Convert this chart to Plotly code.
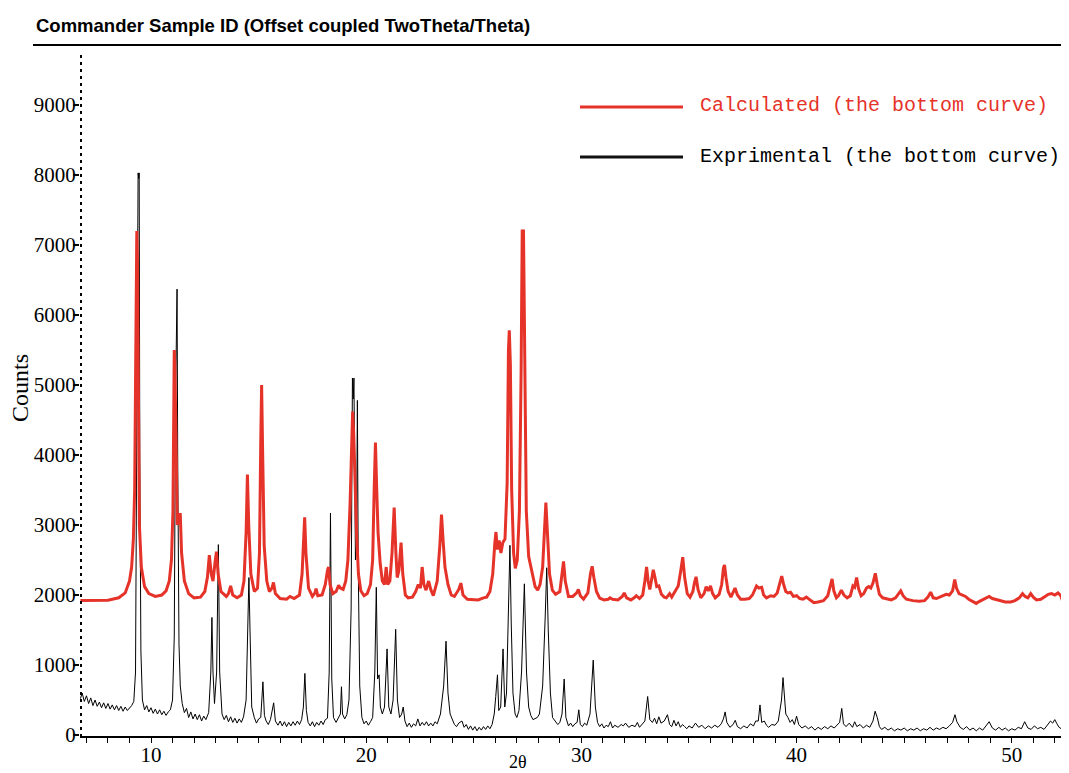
import plotly.graph_objects as go

# ---------------- data ----------------
exp_two_theta = [
    6.72, 6.8, 6.9, 7.0, 7.1, 7.2, 7.3, 7.4, 7.5, 7.6, 7.7, 7.8, 7.9, 8.0, 8.1, 8.2, 8.3, 8.4, 8.5, 8.6,
    8.7, 8.8, 8.9, 9.0, 9.1, 9.2, 9.28, 9.33, 9.38, 9.40, 9.43, 9.45, 9.48, 9.53, 9.6, 9.7, 9.8, 9.9,
    10.0, 10.1, 10.2, 10.3, 10.4, 10.5, 10.6, 10.7, 10.8, 10.9, 11.0, 11.08, 11.14, 11.18, 11.21, 11.24,
    11.3, 11.36, 11.45, 11.55, 11.65, 11.75, 11.85, 11.95, 12.05, 12.15, 12.25, 12.35, 12.45, 12.55,
    12.68, 12.78, 12.83, 12.88, 12.95, 13.05, 13.13, 13.19, 13.3, 13.4, 13.5, 13.6, 13.7, 13.8, 13.9,
    14.0, 14.1, 14.2, 14.3, 14.42, 14.5, 14.55, 14.6, 14.68, 14.8, 14.9, 15.0, 15.1, 15.2, 15.27, 15.35,
    15.45, 15.55, 15.7, 15.78, 15.9, 16.0, 16.1, 16.2, 16.3, 16.4, 16.5, 16.6, 16.7, 16.8, 16.9, 17.0,
    17.08, 17.15, 17.22, 17.3, 17.4, 17.5, 17.6, 17.7, 17.8, 17.9, 18.0, 18.1, 18.2, 18.28, 18.34, 18.4,
    18.48, 18.6, 18.7, 18.8, 18.85, 18.9, 19.0, 19.1, 19.2, 19.3, 19.36, 19.4, 19.43, 19.5, 19.55, 19.59,
    19.63, 19.7, 19.8, 19.9, 20.0, 20.1, 20.2, 20.3, 20.4, 20.47, 20.53, 20.6, 20.66, 20.75, 20.85, 20.97,
    21.05, 21.15, 21.25, 21.37, 21.45, 21.55, 21.65, 21.72, 21.8, 21.9, 22.0, 22.1, 22.2, 22.3, 22.4,
    22.5, 22.6, 22.7, 22.8, 22.9, 23.0, 23.1, 23.2, 23.3, 23.45, 23.6, 23.71, 23.8, 23.9, 24.0, 24.1,
    24.2, 24.3, 24.45, 24.55, 24.65, 24.75, 24.85, 24.95, 25.05, 25.15, 25.25, 25.35, 25.45, 25.55,
    25.65, 25.75, 25.85, 25.95, 26.02, 26.1, 26.16, 26.25, 26.36, 26.44, 26.52, 26.62, 26.68, 26.74,
    26.82, 26.92, 27.0, 27.1, 27.22, 27.35, 27.45, 27.55, 27.65, 27.75, 27.85, 27.95, 28.05, 28.2,
    28.32, 28.39, 28.46, 28.56, 28.66, 28.8, 28.9, 29.0, 29.1, 29.2, 29.28, 29.4, 29.5, 29.6, 29.7,
    29.8, 29.88, 29.95, 30.05, 30.15, 30.25, 30.4, 30.55, 30.65, 30.75, 30.85, 30.95, 31.05, 31.15,
    31.25, 31.35, 31.45, 31.55, 31.7, 31.85, 31.95, 32.05, 32.2, 32.35, 32.5, 32.6, 32.7, 32.8, 32.95,
    33.08, 33.18, 33.3, 33.4, 33.5, 33.6, 33.7, 33.85, 34.0, 34.1, 34.2, 34.3, 34.4, 34.5, 34.6, 34.7,
    34.8, 34.9, 35.0, 35.15, 35.3, 35.45, 35.6, 35.75, 35.9, 36.05, 36.2, 36.35, 36.5, 36.6, 36.68,
    36.76, 36.9, 37.05, 37.15, 37.25, 37.4, 37.55, 37.7, 37.85, 38.0, 38.1, 38.22, 38.3, 38.38, 38.5,
    38.6, 38.7, 38.85, 39.0, 39.15, 39.3, 39.37, 39.43, 39.5, 39.6, 39.7, 39.8, 39.9, 40.0, 40.1, 40.25,
    40.4, 40.55, 40.7, 40.85, 41.0, 41.15, 41.3, 41.45, 41.6, 41.75, 41.9, 42.0, 42.1, 42.18, 42.3,
    42.45, 42.6, 42.7, 42.8, 42.95, 43.1, 43.25, 43.4, 43.55, 43.65, 43.75, 43.85, 43.95, 44.1, 44.25,
    44.4, 44.55, 44.7, 44.85, 45.0, 45.15, 45.3, 45.45, 45.6, 45.75, 45.9, 46.05, 46.2, 46.35, 46.5,
    46.65, 46.8, 46.95, 47.1, 47.25, 47.36, 47.45, 47.6, 47.75, 47.9, 48.05, 48.2, 48.35, 48.5, 48.65,
    48.8, 48.95, 49.1, 49.25, 49.4, 49.55, 49.7, 49.85, 50.0, 50.15, 50.3, 50.45, 50.6, 50.75, 50.9,
    51.05, 51.2, 51.35, 51.5, 51.65, 51.8, 51.9, 52.0, 52.1, 52.2, 52.3, 52.42,
]
exp_counts = [
    520, 600, 480, 560, 450, 530, 420, 500, 410, 470, 390, 460, 380, 450, 370, 430, 360, 420, 350, 410,
    340, 400, 350, 380, 420, 480, 900, 3900, 7200, 8030, 7950, 8030, 3900, 1200, 500, 360, 420, 330,
    390, 310, 370, 300, 360, 290, 340, 280, 330, 360, 500, 1400, 4800, 6370, 6370, 4000,
    1300, 700, 450, 320, 380, 250, 330, 230, 300, 220, 290, 200, 270, 220,
    320, 900, 1680, 900, 450, 900, 2720, 900, 300, 220, 280, 190, 260, 180, 240,
    170, 230, 180, 260, 500, 1800, 2250, 1500, 400, 250, 170, 230, 250, 760, 280, 200,
    150, 220, 460, 200, 140, 200, 130, 190, 120, 180, 130, 190, 140, 200, 150, 220,
    400, 880, 350, 180, 130, 190, 120, 180, 140, 200, 150, 220, 240, 900, 3170, 800,
    250, 180, 240, 300, 690, 300, 230, 290, 500, 1800, 5100, 4800, 5100, 2500, 2700, 4780,
    2400, 700, 250, 160, 200, 140, 190, 250, 900, 2110, 800, 860, 400, 300, 400, 1230,
    400, 300, 500, 1510, 500, 250, 300, 400, 200, 120, 170, 110, 160, 130, 230,
    130, 180, 140, 190, 130, 170, 130, 190, 160, 300, 700, 1340, 600, 300, 230, 150,
    120, 170, 200, 110, 150, 80, 130, 70, 120, 60, 110, 70, 120, 80,
    130, 90, 150, 300, 550, 860, 350, 400, 1230, 400, 600, 1800, 2710, 1600,
    600, 300, 250, 350, 900, 2160, 900, 400, 280, 220, 230, 250, 300, 700,
    1700, 2390, 1500, 600, 250, 200, 150, 180, 300, 800, 250, 130, 170, 120, 160,
    180, 360, 150, 120, 170, 140, 300, 1070, 400, 180, 120, 160, 100, 140,
    120, 190, 100, 140, 110, 150, 130, 170, 110, 140, 120, 180, 110, 140, 200,
    550, 220, 180, 240, 160, 260, 170, 200, 290, 150, 120, 210, 130, 190, 110, 150,
    120, 90, 130, 100, 170, 110, 140, 90, 130, 100, 140, 110, 160, 230, 330,
    180, 110, 150, 210, 120, 90, 130, 100, 160, 130, 200, 200, 430, 180, 200,
    140, 110, 150, 140, 200, 500, 820, 560, 300, 250, 180, 220, 150, 270, 150, 100,
    130, 90, 120, 70, 110, 80, 120, 90, 130, 100, 150, 180, 380, 160, 120,
    170, 110, 190, 120, 150, 100, 140, 110, 200, 340, 250, 120, 80, 110, 70,
    100, 60, 90, 70, 100, 60, 90, 70, 100, 60, 90, 70, 110, 70, 100,
    80, 110, 90, 130, 180, 290, 190, 110, 80, 120, 70, 100, 60, 100, 70,
    130, 190, 100, 70, 110, 70, 100, 60, 90, 70, 110, 90, 190, 100, 80,
    130, 90, 110, 80, 140, 200, 170, 220, 160, 110, 90, 60,
]

calc_two_theta = [
    6.72, 7.5, 8.0, 8.5, 8.8, 9.0, 9.1, 9.18, 9.24, 9.28, 9.31, 9.34, 9.37, 9.41, 9.46, 9.55, 9.7, 9.9,
    10.2, 10.5, 10.7, 10.85, 10.95, 11.02, 11.06, 11.08, 11.11, 11.16, 11.22, 11.3, 11.36, 11.42, 11.55,
    11.75, 12.0, 12.3, 12.5, 12.62, 12.71, 12.8, 12.88, 12.97, 13.04, 13.12, 13.25, 13.5, 13.6, 13.7,
    13.8, 14.0, 14.2, 14.32, 14.42, 14.48, 14.54, 14.64, 14.8, 14.95, 15.04, 15.1, 15.14, 15.19, 15.26,
    15.38, 15.5, 15.62, 15.69, 15.78, 16.0, 16.3, 16.46, 16.65, 16.9, 17.02, 17.1, 17.14, 17.2, 17.32,
    17.5, 17.62, 17.67, 17.75, 17.95, 18.1, 18.2, 18.25, 18.32, 18.45, 18.6, 18.72, 18.8, 18.93, 19.05,
    19.15, 19.25, 19.32, 19.37, 19.42, 19.48, 19.55, 19.64, 19.75, 19.9, 20.05, 20.2, 20.3, 20.37, 20.43,
    20.49, 20.55, 20.65, 20.75, 20.85, 20.93, 21.0, 21.1, 21.2, 21.3, 21.38, 21.44, 21.52, 21.62, 21.7,
    21.82, 21.95, 22.15, 22.3, 22.42, 22.52, 22.6, 22.68, 22.78, 22.9, 23.0, 23.12, 23.3, 23.42, 23.5,
    23.58, 23.66, 23.8, 23.95, 24.1, 24.3, 24.4, 24.5, 24.7, 24.95, 25.2, 25.45, 25.6, 25.75, 25.88,
    25.98, 26.03, 26.1, 26.18, 26.26, 26.35, 26.45, 26.55, 26.61, 26.65, 26.7, 26.76, 26.85, 26.93,
    27.02, 27.12, 27.2, 27.25, 27.31, 27.36, 27.44, 27.55, 27.65, 27.75, 27.85, 27.97, 28.08, 28.2,
    28.28, 28.35, 28.42, 28.52, 28.65, 28.8, 29.0, 29.1, 29.17, 29.25, 29.4, 29.6, 29.78, 29.86, 29.95,
    30.1, 30.3, 30.42, 30.5, 30.58, 30.7, 30.85, 31.05, 31.25, 31.33, 31.45, 31.7, 31.9, 31.99, 32.1,
    32.3, 32.45, 32.55, 32.7, 32.85, 32.95, 33.03, 33.1, 33.18, 33.28, 33.34, 33.42, 33.5, 33.6, 33.72,
    33.85, 33.95, 34.1, 34.2, 34.35, 34.5, 34.62, 34.71, 34.8, 34.92, 35.05, 35.18, 35.26, 35.33, 35.42,
    35.55, 35.7, 35.8, 35.9, 36.0, 36.1, 36.22, 36.4, 36.52, 36.6, 36.65, 36.72, 36.82, 36.95, 37.05,
    37.14, 37.25, 37.4, 37.6, 37.8, 37.95, 38.05, 38.14, 38.25, 38.38, 38.47, 38.6, 38.8, 38.95, 39.1,
    39.22, 39.31, 39.4, 39.5, 39.6, 39.72, 39.85, 40.0, 40.15, 40.3, 40.45, 40.6, 40.8, 41.0, 41.25,
    41.45, 41.56, 41.65, 41.73, 41.85, 41.95, 42.08, 42.2, 42.35, 42.5, 42.62, 42.7, 42.79, 42.88, 43.0,
    43.12, 43.25, 43.35, 43.45, 43.55, 43.66, 43.75, 43.85, 44.0, 44.2, 44.4, 44.6, 44.72, 44.84, 44.95,
    45.1, 45.4, 45.7, 45.95, 46.1, 46.23, 46.35, 46.5, 46.65, 46.8, 46.95, 47.1, 47.25, 47.35, 47.43,
    47.55, 47.7, 47.85, 48.0, 48.2, 48.35, 48.5, 48.7, 48.85, 48.95, 49.1, 49.3, 49.5, 49.7, 49.95,
    50.15, 50.35, 50.5, 50.62, 50.75, 50.88, 51.0, 51.15, 51.35, 51.55, 51.7, 51.85, 52.0, 52.15, 52.28,
    52.38,
]
calc_counts = [
    1920, 1920, 1925, 1960, 2030, 2200, 2400, 2800, 3500, 5000, 6800, 7200, 6800, 4500, 3000, 2400, 2120, 2020,
    1980, 2000, 2060, 2200, 2500, 3200, 5000, 5500, 5300, 3800, 3000, 3150, 3150, 2600, 2200,
    2020, 1960, 1970, 2050, 2250, 2570, 2300, 2200, 2450, 2620, 2300, 2050, 1980, 2020, 2130,
    2000, 1960, 2000, 2200, 2900, 3720, 3000, 2300, 2050, 2100, 2600, 4200, 5000, 4000, 2700,
    2200, 2050, 2100, 2180, 2020, 1950, 1940, 1980, 1950, 2000, 2300, 3000, 3110, 2600, 2100,
    1980, 2030, 2090, 1990, 2000, 2150, 2350, 2400, 2150, 2020, 2050, 2140, 2100, 2080, 2200,
    2500, 3300, 4300, 4620, 4300, 3500, 2900, 2300, 2060, 1990, 2020, 2150, 2500, 3500, 4180,
    3500, 2900, 2450, 2200, 2150, 2400, 2150, 2200, 2600, 3250, 2600, 2250, 2350, 2750, 2300,
    2000, 1960, 1970, 2050, 2150, 2100, 2400, 2150, 2070, 2200, 2080, 1990, 2200, 2700, 3150,
    2750, 2400, 2150, 2000, 1980, 2080, 2170, 2000, 1940, 1930, 1930, 1960, 1970, 2050, 2300,
    2750, 2900, 2650, 2780, 2600, 2750, 2800, 3600, 5500, 5780, 5300, 3500, 2600, 2380,
    2500, 3200, 5200, 7200, 7200, 5500, 3200, 2550, 2400, 2260, 2120, 2070, 2150, 2400,
    3000, 3320, 2900, 2300, 2070, 2010, 2050, 2300, 2480, 2200, 1980, 1980, 2030, 2080, 1990,
    1940, 2030, 2300, 2410, 2250, 2050, 1955, 1930, 1940, 1960, 1940, 1930, 1980, 2030, 1960,
    1930, 1960, 1990, 1950, 2000, 2200, 2400, 2200, 2080, 2250, 2360, 2250, 2120, 2130, 2010,
    1970, 1960, 2020, 1970, 2050, 2130, 2350, 2540, 2250, 2020, 1970, 2050, 2180, 2260, 2080,
    1960, 2020, 2120, 2060, 2130, 2020, 1960, 2010, 2150, 2380, 2430, 2250, 2050, 1970, 2040,
    2100, 2000, 1940, 1940, 1950, 2000, 2080, 2130, 2100, 2110, 2000, 1960, 1990, 1980, 2030,
    2150, 2270, 2150, 2050, 2030, 2040, 1980, 1990, 1950, 1940, 1970, 1930, 1890, 1900, 1920,
    1990, 2150, 2230, 2060, 1960, 1990, 2070, 2000, 1960, 1990, 2130, 2110, 2250, 2090, 1990,
    2020, 2100, 2120, 2100, 2170, 2310, 2150, 2010, 1960, 1940, 1930, 1960, 2020, 2060, 1990,
    1940, 1920, 1910, 1920, 1970, 2040, 1960, 1950, 1970, 2000, 2010, 2000, 2060, 2220, 2100,
    2020, 2000, 1980, 1940, 1900, 1880, 1910, 1940, 1970, 1980, 1950, 1930, 1920, 1900, 1900,
    1920, 1960, 2020, 1980, 1960, 2020, 1970, 1930, 1940, 1980, 2010, 2020, 2000, 2030, 1990,
    1900,
]

x_tick_values = [10, 20, 30, 40, 50]
y_tick_values = [0, 1000, 2000, 3000, 4000, 5000, 6000, 7000, 8000, 9000]

title_text = "Commander Sample ID (Offset coupled TwoTheta/Theta)"
legend_calc = "Calculated (the bottom curve)"
legend_exp = "Exprimental (the bottom curve)"

RED = "#e5332a"

# ---------------- figure ----------------
fig = go.Figure()
fig.add_trace(go.Scatter(x=exp_two_theta, y=exp_counts, mode="lines",
                         line=dict(color="black", width=1), showlegend=False))
fig.add_trace(go.Scatter(x=calc_two_theta, y=calc_counts, mode="lines",
                         line=dict(color=RED, width=3), showlegend=False))

# the page puts the figure 8 px in from the top-left corner of the window
OFF = 8
W, H = 1069 - OFF, 773 - OFF
ML, MR, MT = 80 - OFF, 0, 50 - OFF
MB = H - (736 - OFF)
PW, PH = W - ML - MR, H - MT - MB


def px(xp):
    """window x-pixel of the reference -> paper x"""
    return (xp - OFF - ML) / PW


def py(yp):
    """window y-pixel of the reference -> paper y"""
    return (H - MB - (yp - OFF)) / PH


serif = "Liberation Serif, Times New Roman, serif"
mono = "Liberation Mono, Courier New, monospace"

fig.update_layout(
    width=W, height=H,
    margin=dict(l=ML, r=MR, t=MT, b=MB, pad=0),
    paper_bgcolor="white", plot_bgcolor="white",
    showlegend=False,
    xaxis=dict(range=[6.70, 52.66], tickvals=x_tick_values, ticks="outside", ticklen=5,
               tickwidth=1, tickcolor="black", showline=True, linecolor="black", linewidth=2,
               showgrid=False, zeroline=False, ticklabelstandoff=-6,
               tickfont=dict(family=serif, size=21, color="black"),
               minor=dict(dtick=1, ticks="outside", ticklen=5, tickwidth=1, tickcolor="black")),
    yaxis=dict(range=[-14, 9786], tickvals=y_tick_values, ticks="outside", ticklen=6,
               tickwidth=1.5, tickcolor="black", showline=False, showgrid=False, zeroline=False,
               ticklabelstandoff=-7,
               tickfont=dict(family=serif, size=21, color="black"),
               minor=dict(dtick=100, ticks="inside", ticklen=2, tickwidth=3, tickcolor="black")),
)

# title and rule under it
fig.add_annotation(x=px(34), y=py(26), xref="paper", yref="paper", xanchor="left", yanchor="middle",
                   text=title_text, showarrow=False,
                   font=dict(family="Liberation Sans, Arial, sans-serif", size=18.5, color="black",
                             weight="bold"))
fig.add_shape(type="line", xref="paper", yref="paper", x0=px(33), x1=1.0, y0=py(45), y1=py(45),
              line=dict(color="black", width=2))

# axis titles
fig.add_annotation(x=px(20), y=py(388), xref="paper", yref="paper", xanchor="center", yanchor="middle",
                   text="Counts", textangle=-90,
                   showarrow=False, font=dict(family=serif, size=24, color="black"))
fig.add_annotation(x=px(518), y=py(762), xref="paper", yref="paper", xanchor="center", yanchor="middle",
                   text="2θ", showarrow=False, font=dict(family=serif, size=18, color="black"))

# custom legend
fig.add_shape(type="line", xref="paper", yref="paper", x0=px(580), x1=px(683), y0=py(107), y1=py(107),
              line=dict(color=RED, width=3))
fig.add_shape(type="line", xref="paper", yref="paper", x0=px(580), x1=px(683), y0=py(157), y1=py(157),
              line=dict(color="#111111", width=3))
fig.add_annotation(x=px(698), y=py(106), xref="paper", yref="paper", xanchor="left", yanchor="middle",
                   text=legend_calc, showarrow=False, font=dict(family=mono, size=20, color=RED))
fig.add_annotation(x=px(698), y=py(156), xref="paper", yref="paper", xanchor="left", yanchor="middle",
                   text=legend_exp, showarrow=False, font=dict(family=mono, size=20, color="black"))

fig.write_html("out.html")
